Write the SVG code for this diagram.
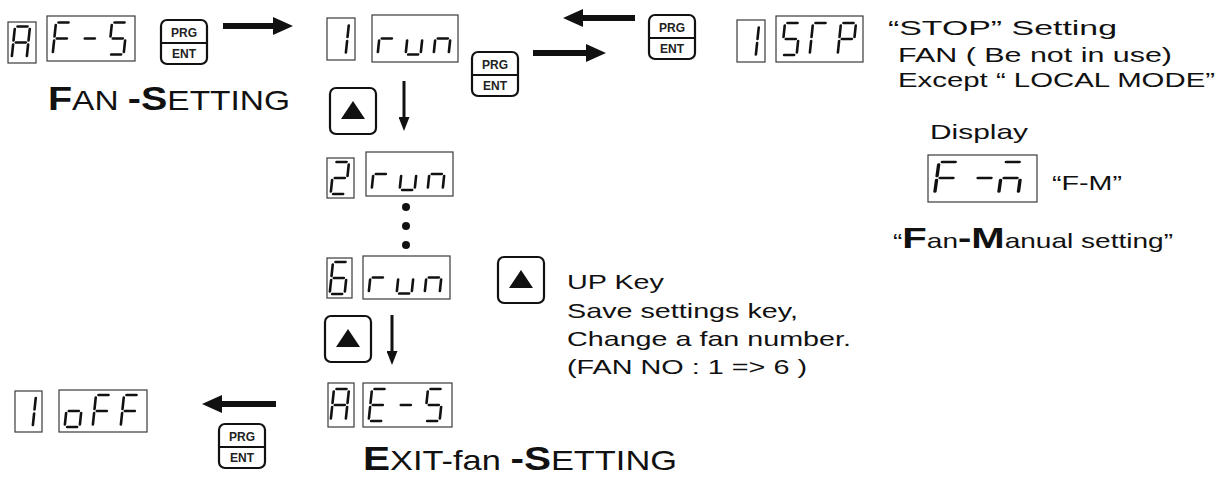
<svg xmlns="http://www.w3.org/2000/svg" width="1221" height="478" viewBox="0 0 1221 478">
<style>
  .lcd{fill:#fff;stroke:#3a3a3a;stroke-width:1.2}
  .key{fill:#fff;stroke:#111;stroke-width:2.2}
  .kdiv{stroke:#111;stroke-width:2}
  .ktx{font-family:"Liberation Sans",Arial,sans-serif;font-weight:bold;font-size:12px;fill:#222;text-anchor:middle}
  .tri{fill:#111}
  .txt{font-family:"Liberation Sans",Arial,sans-serif;font-size:21px;fill:#111}
  .big{font-family:"Liberation Sans",Arial,sans-serif;font-size:28px;fill:#111}
  .bb{font-weight:bold;font-size:33px}
  .mb{font-weight:bold;font-size:30px}
  .thick{stroke:#111;stroke-width:6;fill:none}
  .thin{stroke:#111;stroke-width:3;fill:none}
  .dot{fill:#111}
</style>
<defs>
  <marker id="hd" markerUnits="userSpaceOnUse" viewBox="0 0 20 18" markerWidth="20" markerHeight="18" refX="2" refY="9" orient="auto">
    <path d="M0 0L20 9L0 18z" fill="#111"/>
  </marker>
  <marker id="hs" markerUnits="userSpaceOnUse" viewBox="0 0 14 11" markerWidth="14" markerHeight="11" refX="2" refY="5.5" orient="auto">
    <path d="M0 0L14 5.5L0 11z" fill="#111"/>
  </marker>
  <!-- seven-segment display segments, cell 15 x 32 -->
  <g id="segs">
    <line id="sa" x1="2.5" y1="0" x2="12.5" y2="0" stroke="#111" stroke-width="2.6" stroke-linecap="round"/>
    <line id="sb" x1="15" y1="2.5" x2="15" y2="14" stroke="#111" stroke-width="2.6" stroke-linecap="round"/>
    <line id="sc" x1="15" y1="18" x2="15" y2="29.5" stroke="#111" stroke-width="2.6" stroke-linecap="round"/>
    <line id="sd" x1="2.5" y1="32" x2="12.5" y2="32" stroke="#111" stroke-width="2.6" stroke-linecap="round"/>
    <line id="se" x1="0" y1="18" x2="0" y2="29.5" stroke="#111" stroke-width="2.6" stroke-linecap="round"/>
    <line id="sf" x1="0" y1="2.5" x2="0" y2="14" stroke="#111" stroke-width="2.6" stroke-linecap="round"/>
    <line id="sg" x1="2.5" y1="16" x2="12.5" y2="16" stroke="#111" stroke-width="2.6" stroke-linecap="round"/>
  </g>
  <g id="c-A" transform="skewX(-6)"><use href="#sa"/><use href="#sb"/><use href="#sc"/><use href="#se"/><use href="#sf"/><use href="#sg"/></g>
  <g id="c-F" transform="skewX(-6)"><use href="#sa"/><use href="#se"/><use href="#sf"/><use href="#sg"/></g>
  <g id="c-dash" transform="skewX(-6)"><use href="#sg"/></g>
  <g id="c-5" transform="skewX(-6)"><use href="#sa"/><use href="#sf"/><use href="#sg"/><use href="#sc"/><use href="#sd"/></g>
  <g id="c-1" transform="skewX(-6)"><use href="#sb"/><use href="#sc"/></g>
  <g id="c-r" transform="skewX(-6)"><use href="#se"/><use href="#sg"/></g>
  <g id="c-u" transform="skewX(-6)"><use href="#se"/><use href="#sd"/><use href="#sc"/></g>
  <g id="c-n" transform="skewX(-6)"><use href="#se"/><use href="#sg"/><use href="#sc"/></g>
  <g id="c-2" transform="skewX(-6)"><use href="#sa"/><use href="#sb"/><use href="#sg"/><use href="#se"/><use href="#sd"/></g>
  <g id="c-6" transform="skewX(-6)"><use href="#sa"/><use href="#sf"/><use href="#sg"/><use href="#se"/><use href="#sd"/><use href="#sc"/></g>
  <g id="c-E" transform="skewX(-6)"><use href="#sa"/><use href="#sf"/><use href="#sg"/><use href="#se"/><use href="#sd"/></g>
  <g id="c-T" transform="skewX(-6)"><use href="#sa"/><use href="#sf"/><use href="#se"/></g>
  <g id="c-P" transform="skewX(-6)"><use href="#sa"/><use href="#sb"/><use href="#sf"/><use href="#sg"/><use href="#se"/></g>
  <g id="c-o" transform="skewX(-6)"><use href="#sg"/><use href="#sc"/><use href="#sd"/><use href="#se"/></g>
  <g id="c-M" transform="skewX(-6)"><use href="#sa"/><use href="#sg"/><use href="#se"/><use href="#sc"/></g>
</defs>

<!-- displays -->
<g id="disp-AF5">
  <rect class="lcd" x="8" y="22" width="28" height="41"/><use href="#c-A" x="15" y="26.5"/>
  <rect class="lcd" x="47" y="16" width="88" height="45"/>
  <use href="#c-F" x="56" y="22.5"/><use href="#c-dash" x="84" y="22.5"/><use href="#c-5" x="112" y="22.5"/>
</g>
<g id="disp-1run">
  <rect class="lcd" x="327" y="18" width="28" height="42"/><use href="#c-1" x="334" y="23"/>
  <rect class="lcd" x="372" y="15" width="86" height="47"/>
  <use href="#c-r" x="381" y="22.5"/><use href="#c-u" x="409" y="22.5"/><use href="#c-n" x="437" y="22.5"/>
</g>
<g id="disp-2run">
  <rect class="lcd" x="327" y="158" width="27" height="40"/><use href="#c-2" x="334" y="162"/>
  <rect class="lcd" x="366" y="152" width="87" height="44"/>
  <use href="#c-r" x="375" y="158"/><use href="#c-u" x="403" y="158"/><use href="#c-n" x="431" y="158"/>
</g>
<g id="dots">
  <circle class="dot" cx="406" cy="207" r="4"/>
  <circle class="dot" cx="406" cy="226" r="4"/>
  <circle class="dot" cx="406" cy="245" r="4"/>
</g>
<g id="disp-6run">
  <rect class="lcd" x="327" y="258" width="25" height="40"/><use href="#c-6" x="333" y="262"/>
  <rect class="lcd" x="363" y="256" width="87" height="43"/>
  <use href="#c-r" x="372" y="261.5"/><use href="#c-u" x="400" y="261.5"/><use href="#c-n" x="428" y="261.5"/>
</g>
<g id="disp-AE5">
  <rect class="lcd" x="328" y="383" width="26" height="44"/><use href="#c-A" x="334" y="389"/>
  <rect class="lcd" x="363" y="383" width="89" height="44"/>
  <use href="#c-E" x="372" y="389"/><use href="#c-dash" x="400" y="389"/><use href="#c-5" x="428" y="389"/>
</g>
<g id="disp-1off">
  <rect class="lcd" x="15" y="391" width="27" height="41"/><use href="#c-1" x="21" y="395.5"/>
  <rect class="lcd" x="59" y="390" width="88" height="42"/>
  <use href="#c-o" x="68" y="395"/><use href="#c-F" x="96" y="395"/><use href="#c-F" x="124" y="395"/>
</g>
<g id="disp-1STP">
  <rect class="lcd" x="737" y="20" width="28" height="42"/><use href="#c-1" x="744" y="25"/>
  <rect class="lcd" x="776" y="16" width="87" height="46"/>
  <use href="#c-5" x="785" y="23"/><use href="#c-T" x="813" y="23"/><use href="#c-P" x="841" y="23"/>
</g>
<g id="disp-FM">
  <rect class="lcd" x="928" y="155" width="109" height="47"/>
  <use href="#c-F" transform="translate(939,162) scale(1.3,1)"/>
  <use href="#c-dash" transform="translate(977,162) scale(1.3,1)"/>
  <use href="#c-M" transform="translate(1003,162) scale(1.3,1)"/>
</g>

<!-- keys -->
<g id="key-prg-1">
  <rect class="key" x="161" y="20" width="46" height="44" rx="6"/>
  <line class="kdiv" x1="161" y1="43" x2="207" y2="43"/>
  <text class="ktx" x="184" y="37">PRG</text><text class="ktx" x="184" y="58">ENT</text>
</g>
<g id="key-prg-2">
  <rect class="key" x="472" y="52" width="46" height="44" rx="6"/>
  <line class="kdiv" x1="472" y1="75" x2="518" y2="75"/>
  <text class="ktx" x="495" y="69">PRG</text><text class="ktx" x="495" y="90">ENT</text>
</g>
<g id="key-prg-3">
  <rect class="key" x="649" y="15" width="46" height="44" rx="6"/>
  <line class="kdiv" x1="649" y1="38" x2="695" y2="38"/>
  <text class="ktx" x="672" y="32">PRG</text><text class="ktx" x="672" y="53">ENT</text>
</g>
<g id="key-prg-4">
  <rect class="key" x="219" y="424" width="46" height="44" rx="6"/>
  <line class="kdiv" x1="219" y1="447" x2="265" y2="447"/>
  <text class="ktx" x="242" y="441">PRG</text><text class="ktx" x="242" y="462">ENT</text>
</g>
<g id="key-up-1">
  <rect class="key" x="330" y="88" width="46" height="46" rx="6"/>
  <polygon class="tri" points="353,101 341,119 365,119"/>
</g>
<g id="key-up-2">
  <rect class="key" x="498" y="257" width="46" height="46" rx="6"/>
  <polygon class="tri" points="521,270 509,288 533,288"/>
</g>
<g id="key-up-3">
  <rect class="key" x="325" y="316" width="46" height="46" rx="6"/>
  <polygon class="tri" points="348,329 336,347 360,347"/>
</g>

<!-- connectors -->
<g id="connectors">
  <line class="thick" x1="223" y1="26" x2="275" y2="26" marker-end="url(#hd)"/>
  <line class="thick" x1="533" y1="53" x2="588" y2="53" marker-end="url(#hd)"/>
  <line class="thick" x1="635" y1="18" x2="581" y2="18" marker-end="url(#hd)"/>
  <line class="thick" x1="276" y1="404" x2="220" y2="404" marker-end="url(#hd)"/>
  <line class="thin" x1="404" y1="81" x2="404" y2="119" marker-end="url(#hs)"/>
  <line class="thin" x1="392" y1="315" x2="392" y2="353" marker-end="url(#hs)"/>
</g>

<!-- labels -->
<g id="labels">
  <text class="big" x="48" y="110" textLength="242" lengthAdjust="spacingAndGlyphs"><tspan class="bb">F</tspan>AN <tspan class="bb">-S</tspan>ETTING</text>
  <text class="big" x="363" y="470" textLength="314" lengthAdjust="spacingAndGlyphs"><tspan class="bb">E</tspan>XIT-fan <tspan class="bb">-S</tspan>ETTING</text>

  <text class="txt" x="888" y="35" textLength="229" lengthAdjust="spacingAndGlyphs">“STOP” Setting</text>
  <text class="txt" x="898" y="62" textLength="274" lengthAdjust="spacingAndGlyphs">FAN ( Be not in use)</text>
  <text class="txt" x="898" y="87" textLength="317" lengthAdjust="spacingAndGlyphs">Except “ LOCAL MODE”</text>
  <text class="txt" x="930" y="139" textLength="98" lengthAdjust="spacingAndGlyphs">Display</text>
  <text class="txt" x="1052" y="190" textLength="70" lengthAdjust="spacingAndGlyphs">“F-M”</text>
  <text class="txt" x="893" y="248" textLength="280" lengthAdjust="spacingAndGlyphs">“<tspan class="mb">F</tspan>an<tspan class="mb">-M</tspan>anual setting”</text>

  <text class="txt" x="567" y="289" textLength="97" lengthAdjust="spacingAndGlyphs">UP Key</text>
  <text class="txt" x="567" y="318" textLength="231" lengthAdjust="spacingAndGlyphs">Save settings key,</text>
  <text class="txt" x="567" y="346" textLength="284" lengthAdjust="spacingAndGlyphs">Change a fan number.</text>
  <text class="txt" x="567" y="374" textLength="240" lengthAdjust="spacingAndGlyphs">(FAN NO : 1 =&gt; 6 )</text>
</g>
</svg>
